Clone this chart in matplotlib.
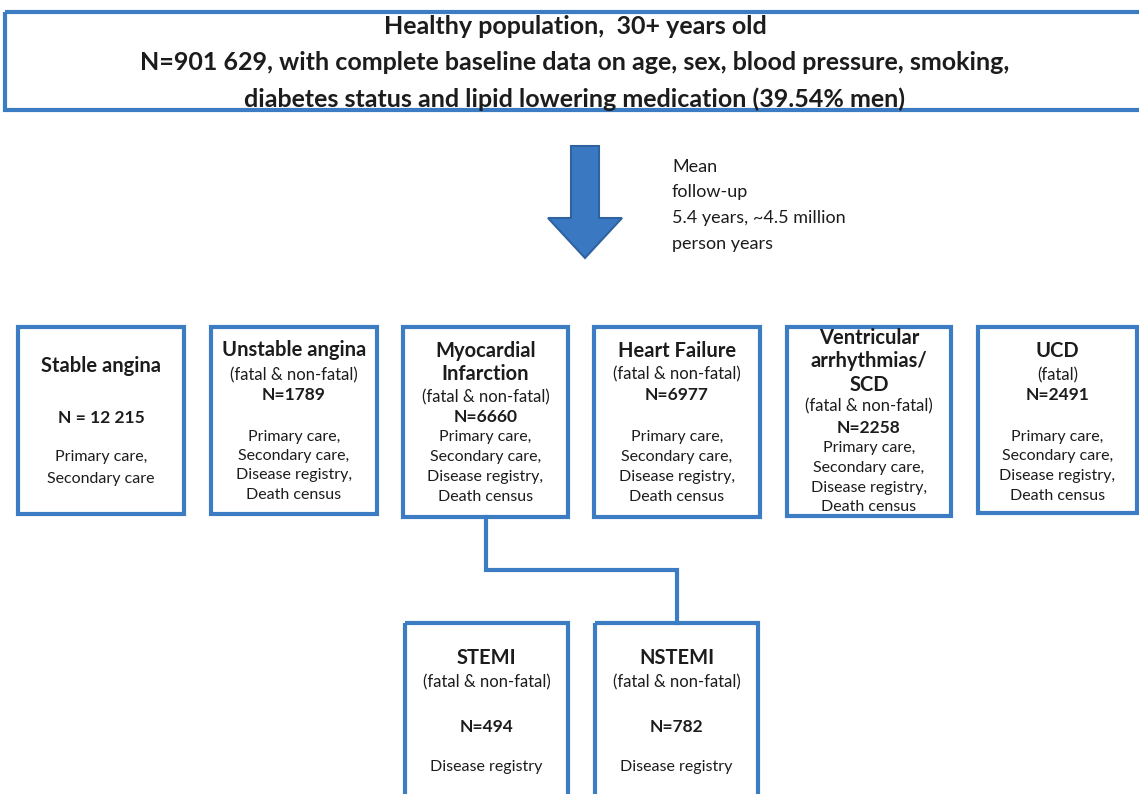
"""
Flowchart: healthy population cohort and cardiovascular outcomes.
"""
import matplotlib.pyplot as plt
from matplotlib.patches import Rectangle, FancyArrow

plt.rcParams['font.family'] = ['Lato', 'DejaVu Sans']

BLUE = '#3b7cc2'
TXT = '#1c1c1c'

# Cohort header
header_lines = ['Healthy population,  30+ years old',
                'N=901 629, with complete baseline data on age, sex, blood pressure, smoking,',
                'diabetes status and lipid lowering medication (39.54% men)']
followup_lines = ['Mean', 'follow-up', '5.4 years, ~4.5 million', 'person years']

# Outcome boxes (top row)
titles = [['Stable angina'], ['Unstable angina'], ['Myocardial', 'Infarction'],
          ['Heart Failure'], ['Ventricular', 'arrhythmias/', 'SCD'], ['UCD']]
subtitles = [None, '(fatal & non-fatal)', '(fatal & non-fatal)',
             '(fatal & non-fatal)', '(fatal & non-fatal)', '(fatal)']
counts = ['N = 12 215', 'N=1789', 'N=6660', 'N=6977', 'N=2258', 'N=2491']
all_sources = ['Primary care,', 'Secondary care,', 'Disease registry,', 'Death census']
sources = [['Primary care,', 'Secondary care'], all_sources, all_sources,
           all_sources, all_sources, all_sources]

# MI sub-types
mi_titles = ['STEMI', 'NSTEMI']
mi_counts = ['N=494', 'N=782']
mi_sources = ['Disease registry', 'Disease registry']

fig = plt.figure(figsize=(11.39, 7.94), dpi=100)
ax = fig.add_axes([0, 0, 1, 1])
ax.set_xlim(0, 1139)
ax.set_ylim(794, 0)
ax.axis('off')


def box(x0, y0, x1, y1):
    ax.add_patch(Rectangle((x0, y0), x1 - x0, y1 - y0, fill=False,
                           edgecolor=BLUE, linewidth=3, zorder=2))


def put(x, y, s, size=12, bold=False):
    ax.text(x, y, s, ha='center', va='center', fontsize=size, color=TXT,
            fontweight='bold' if bold else 'normal')


# header box
box(5, 12, 1150, 110)
for s, y in zip(header_lines, [27, 63, 99]):
    put(575, y, s, size=18, bold=True)

# big arrow
ax.add_patch(FancyArrow(585, 146, 0, 112, width=28, head_width=74,
                        head_length=40, length_includes_head=True,
                        facecolor='#3a78c2', edgecolor='#2f63a0', linewidth=1.5))
for s, y in zip(followup_lines, [167, 192, 218, 244]):
    ax.text(672, y, s, ha='left', va='center', fontsize=13, color=TXT)

# top row of outcome boxes
xs = [(18, 184), (211, 377), (403, 568), (594, 760), (787, 951), (978, 1137)]
bottoms = [514, 514, 517, 517, 516, 513]
layouts = [
    [366, 418, [457, 479]],
    [350, 375, 395, [437, 456, 475, 495]],
    [351, 374, 397, 417, [437, 457, 477, 497]],
    [351, 374, 395, [437, 457, 477, 497]],
    [338, 361, 385, 406, 428, [448, 468, 488, 507]],
    [351, 375, 395, [437, 456, 476, 496]],
]
for i, (x0, x1) in enumerate(xs):
    box(x0, 327, x1, bottoms[i])
    cx = (x0 + x1) / 2
    ys = layouts[i]
    k = 0
    for t in titles[i]:
        put(cx, ys[k], t, size=14.5, bold=True)
        k += 1
    if subtitles[i]:
        put(cx, ys[k], subtitles[i], size=12)
        k += 1
    put(cx, ys[k], counts[i], size=12.5, bold=True)
    k += 1
    for s, y in zip(sources[i], ys[k]):
        put(cx, y, s, size=11.5)

# connector from MI to sub-types
ax.plot([486, 486, 677, 677], [517, 570, 570, 623], color=BLUE, lw=3,
        solid_joinstyle='miter', zorder=1)

sub_xs = [(405, 568), (595, 758)]
for i, (x0, x1) in enumerate(sub_xs):
    box(x0, 623, x1, 820)
    cx = (x0 + x1) / 2
    put(cx, 658, mi_titles[i], size=14.5, bold=True)
    put(cx, 682, '(fatal & non-fatal)', size=12)
    put(cx, 727, mi_counts[i], size=12.5, bold=True)
    put(cx, 767, mi_sources[i], size=11.5)

plt.savefig('out.png', dpi=100)
